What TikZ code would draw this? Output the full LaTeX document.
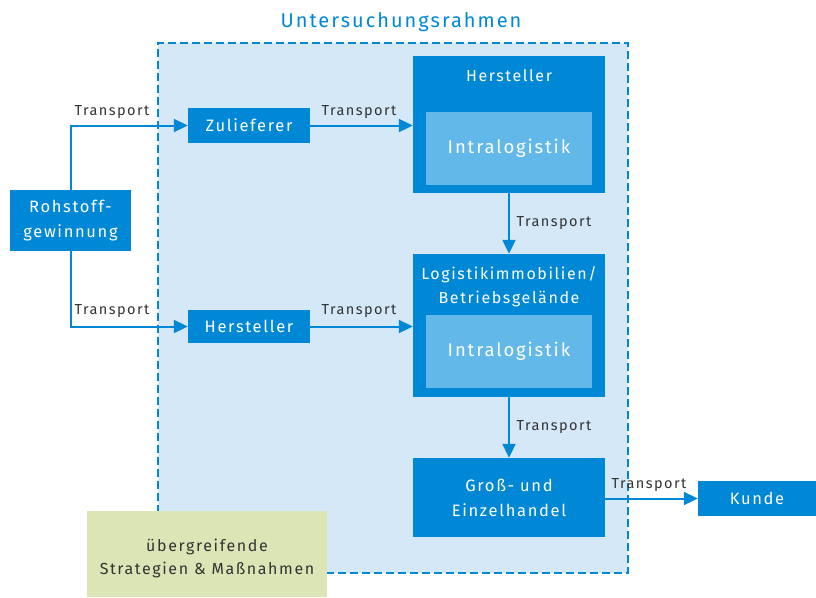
\documentclass[tikz,border=0pt]{standalone}
\usepackage{fontspec}
\setmainfont{Fira Sans}[LetterSpace=10]
\usetikzlibrary{arrows.meta}
\definecolor{mainblue}{HTML}{0088D6}
\definecolor{lightbg}{HTML}{D4E8F8}
\definecolor{innerblue}{HTML}{62B8E8}
\definecolor{greenbox}{HTML}{DCE5B5}
\definecolor{darktext}{HTML}{333333}
\tikzset{
  box/.style={fill=mainblue, draw=none, text=white, align=center, inner sep=0pt, font=\fontsize{16.5}{25}\selectfont},
  inbox/.style={fill=innerblue, draw=none, text=white, align=center, inner sep=0pt, minimum width=166pt, minimum height=73pt, font=\fontsize{18.5}{22}\selectfont},
  boxtext/.style={text=white, align=center, inner sep=0pt, font=\fontsize{16}{24}\selectfont},
  lbl/.style={text=darktext, inner sep=0pt, font=\fontsize{14.5}{16}\selectfont},
  conn/.style={draw=mainblue, line width=2pt, -{Triangle[length=14pt,width=13pt]}}
}
\begin{document}
\begin{tikzpicture}[x=1pt,y=-1pt]
\useasboundingbox (0,0) rectangle (816,597);
% frame
\node[draw=mainblue, fill=lightbg, line width=2.5pt, dash pattern=on 8pt off 4pt, minimum width=470pt, minimum height=530pt, inner sep=0pt] (frame) at (393,308) {};
\node[text=mainblue, font=\fontsize{20}{24}\selectfont, inner sep=0pt] (title) at (401,22) {Untersuchungsrahmen};
% left
\node[box, minimum width=121pt, minimum height=61pt] (roh) at (70.5,220.5) {Rohstoff-\\gewinnung};
\node[box, minimum width=122pt, minimum height=35pt] (zul) at (249,125.5) {Zulieferer};
\node[box, minimum width=122pt, minimum height=33pt] (hl) at (249,326.5) {Hersteller};
% right column
\node[box, minimum width=192pt, minimum height=137pt] (hr) at (509,124.5) {};
\node[boxtext] (hrt) at (509,76) {Hersteller};
\node[inbox] (hri) at (509,148.5) {Intralogistik};
\node[box, minimum width=192pt, minimum height=143pt] (lg) at (509,325.5) {};
\node[boxtext] (lgt) at (509,287) {Logistikimmobilien/\\Betriebsgelände};
\node[inbox] (lgi) at (509,351.5) {Intralogistik};
\node[box, minimum width=192pt, minimum height=79pt] (gr) at (509,497.5) {Groß- und\\Einzelhandel};
\node[box, minimum width=118pt, minimum height=35pt] (ku) at (757,498.5) {Kunde};
% green
\node[fill=greenbox, draw=none, minimum width=240pt, minimum height=86pt, inner sep=0pt] (gb) at (207,554) {};
\node[text=darktext, align=center, inner sep=0pt, font=\fontsize{16}{23}\selectfont] (gbt) at (207,558) {übergreifende\\Strategien \& Maßnahmen};
% connectors
\draw[conn] (roh.north) |- (zul.west);
\draw[conn] (roh.south) |- (hl.west);
\draw[conn] (zul.east) -- (zul.east -| hr.west);
\draw[conn] (hl.east) -- (hl.east -| lg.west);
\draw[conn] (hr.south) -- (lg.north);
\draw[conn] (lg.south) -- (gr.north);
\draw[conn] (gr.east |- ku.west) -- (ku.west);
% labels
\node[lbl] (l1) at (112,112) {Transport};
\node[lbl] (l2) at (112,311) {Transport};
\node[lbl] (l3) at (359,112) {Transport};
\node[lbl] (l4) at (359,311) {Transport};
\node[lbl] (l5) at (554,223) {Transport};
\node[lbl] (l6) at (554,427) {Transport};
\node[lbl] (l7) at (649,485) {Transport};
\end{tikzpicture}
\end{document}
